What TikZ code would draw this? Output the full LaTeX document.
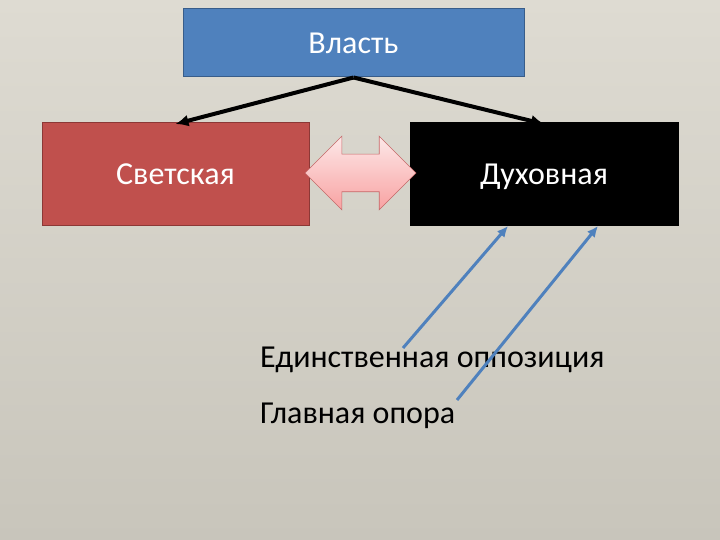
\documentclass[tikz,border=0pt]{standalone}
\usepackage{fontspec}
\setmainfont{Carlito}
\usetikzlibrary{shapes.arrows,arrows.meta}

\definecolor{fonTop}{RGB}{222,219,210}
\definecolor{fonBot}{RGB}{200,197,187}
\definecolor{vlastBlue}{RGB}{79,129,189}
\definecolor{vlastLine}{RGB}{56,93,138}
\definecolor{svetRed}{RGB}{192,80,77}
\definecolor{svetLine}{RGB}{140,56,54}
\definecolor{rozTop}{RGB}{253,232,232}
\definecolor{rozBot}{RGB}{248,162,162}
\definecolor{rozLine}{RGB}{196,104,104}

\begin{document}
\begin{tikzpicture}[x=1pt, y=-1pt,
    font=\fontsize{32}{38}\selectfont,
    box/.style={rectangle, line width=1pt, text=white, text height=22pt, text depth=0pt},
    strelka/.style={-{Latex[length=13pt,width=12pt]}, line width=4pt},
    sinyaya/.style={-{Latex[length=11pt,width=10pt]}, line width=3pt, draw=vlastBlue}]
    % фон
    \shade[top color=fonTop, bottom color=fonBot] (0,0) rectangle (720,540);
    \useasboundingbox (0,0) rectangle (720,540);

    % ノードを描画
    \node[box, fill=vlastBlue, draw=vlastLine, minimum width=341pt, minimum height=68pt] (vl) at (353.5,43) {Власть};
    \node[box, fill=svetRed, draw=svetLine, minimum width=267pt, minimum height=103pt] (svet) at (175.5,174) {Светская};
    \node[box, fill=black, draw=black, minimum width=268pt, minimum height=103pt] (duh) at (544,174) {Духовная};
    \node[double arrow, draw=rozLine, top color=rozTop, bottom color=rozBot, line width=0.6pt,
          minimum height=111pt, inner xsep=0pt, inner ysep=18.5pt,
          double arrow head extend=18pt] (obmen) at (360.5,173) {};
    \node[anchor=base west, inner sep=0pt] (opp) at (260,367) {Единственная оппозиция};
    \node[anchor=base west, inner sep=0pt] (opora) at (260,423) {Главная опора};

    % エッジを描画
    \draw[strelka] (vl.south) -- ([yshift=-2pt]svet.north);
    \draw[strelka] (vl.south) -- ([yshift=-2pt]duh.north);
    \coordinate (oppS) at (403,348);
    \coordinate (oporaS) at (457,400);
    \draw[sinyaya] (oppS) -- ([xshift=-36pt]duh.south);
    \draw[sinyaya] (oporaS) -- ([xshift=54pt]duh.south);
\end{tikzpicture}
\end{document}
